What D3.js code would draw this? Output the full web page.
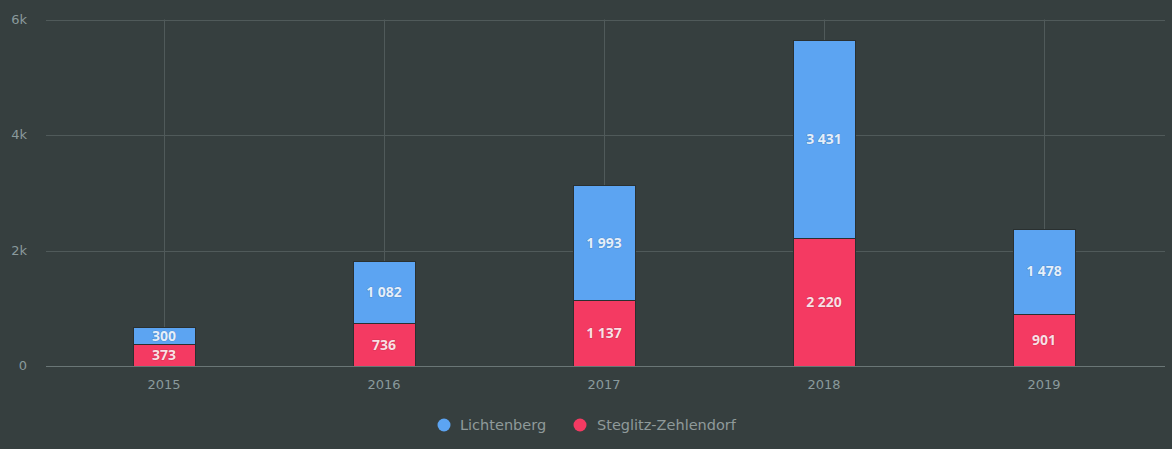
<!DOCTYPE html>
<html><head><meta charset="utf-8">
<script src="https://cdn.jsdelivr.net/npm/d3@7"></script>
<style>
html,body{margin:0;padding:0;background:#363f3f;}
svg{display:block;font-family:"DejaVu Sans","Noto Sans",sans-serif;}
</style></head>
<body><svg id="c" width="1172" height="449"></svg>
<script>
const years = ["2015","2016","2017","2018","2019"];
const lichtenberg = [300,1082,1993,3431,1478];
const steglitz = [373,736,1137,2220,901];
const yTicks = [0,2000,4000,6000];
const yTickLabels = ["0","2k","4k","6k"];
const seriesNames = ["Lichtenberg","Steglitz-Zehlendorf"];
const colors = {"Lichtenberg":"#5ca4f2","Steglitz-Zehlendorf":"#f43a62"};

(function(){
const svg = d3.select("#c");
const W = 1172, H = 449;
svg.append("rect").attr("width",W).attr("height",H).attr("fill","#363f3f");

const plotL = 46, plotR = 1165, plotTop = 19.5, plotBottom = 366;
const x = d3.scaleBand().domain(years).range([54,1154]).paddingInner(0).paddingOuter(0);
const y = d3.scaleLinear().domain([0,6000]).range([plotBottom, plotTop]);

svg.append("g").selectAll("line").data(yTicks.slice(1)).join("line")
  .attr("x1",plotL).attr("x2",plotR).attr("y1",d=>Math.round(y(d))+0.5).attr("y2",d=>Math.round(y(d))+0.5)
  .attr("stroke","#505a5a").attr("stroke-width",1);
svg.append("g").selectAll("line").data(years).join("line")
  .attr("x1",d=>Math.round(x(d)+x.bandwidth()/2)+0.5).attr("x2",d=>Math.round(x(d)+x.bandwidth()/2)+0.5)
  .attr("y1",plotTop).attr("y2",plotBottom)
  .attr("stroke","#505a5a").attr("stroke-width",1);

svg.append("g").selectAll("text").data(yTicks).join("text")
  .attr("x",27).attr("y",d=>y(d)+4).attr("text-anchor","end")
  .attr("fill","#8a9a9c").attr("font-size",13)
  .text((d,i)=>yTickLabels[i]);

const stackData = years.map((yr,i)=>({year:yr,"Lichtenberg":lichtenberg[i],"Steglitz-Zehlendorf":steglitz[i]}));
const stack = d3.stack().keys(["Steglitz-Zehlendorf","Lichtenberg"])(stackData);
const bw = 62;

const g = svg.append("g");
stack.forEach(s=>{
  g.selectAll(null).data(s).join("rect")
    .attr("x",d=>Math.round(x(d.data.year)+x.bandwidth()/2-bw/2)+0.5)
    .attr("y",d=>Math.round(y(d[1]))+0.5)
    .attr("width",bw)
    .attr("height",d=>Math.round(y(d[0]))-Math.round(y(d[1])))
    .attr("fill",colors[s.key]).attr("stroke","#2a3030").attr("stroke-width",1);
});

svg.append("line").attr("x1",plotL).attr("x2",plotR).attr("y1",plotBottom+0.5).attr("y2",plotBottom+0.5)
  .attr("stroke","#6a7676").attr("stroke-width",1);

svg.append("g").selectAll("text").data(years).join("text")
  .attr("x",d=>x(d)+x.bandwidth()/2).attr("y",389).attr("text-anchor","middle")
  .attr("fill","#8a9a9c").attr("font-size",13).text(d=>d);

const fmt = v => d3.format(",")(v).replace(/,/g," ");
stack.forEach(s=>{
  g.selectAll(null).data(s).join("text")
    .attr("x",d=>x(d.data.year)+x.bandwidth()/2)
    .attr("y",d=>(y(d[0])+y(d[1]))/2+5)
    .attr("text-anchor","middle").attr("font-size",14).attr("font-weight","bold")
    .attr("font-family","'Open Sans',sans-serif")
    .attr("fill","#ffffff").attr("fill-opacity",0.85)
    .attr("stroke","rgba(0,0,0,0.15)").attr("stroke-width",1.2)
    .attr("paint-order","stroke")
    .text(d=>fmt(d.data[s.key]));
});

const leg = svg.append("g");
const legItems = [{name:"Lichtenberg",cx:444,tx:460},{name:"Steglitz-Zehlendorf",cx:580,tx:597}];
legItems.forEach(it=>{
  leg.append("circle").attr("cx",it.cx).attr("cy",425).attr("r",6.5).attr("fill",colors[it.name]);
  leg.append("text").attr("x",it.tx).attr("y",430).attr("fill","#8f9a9a").attr("font-size",14.5).text(it.name);
});
})();
</script></body></html>
